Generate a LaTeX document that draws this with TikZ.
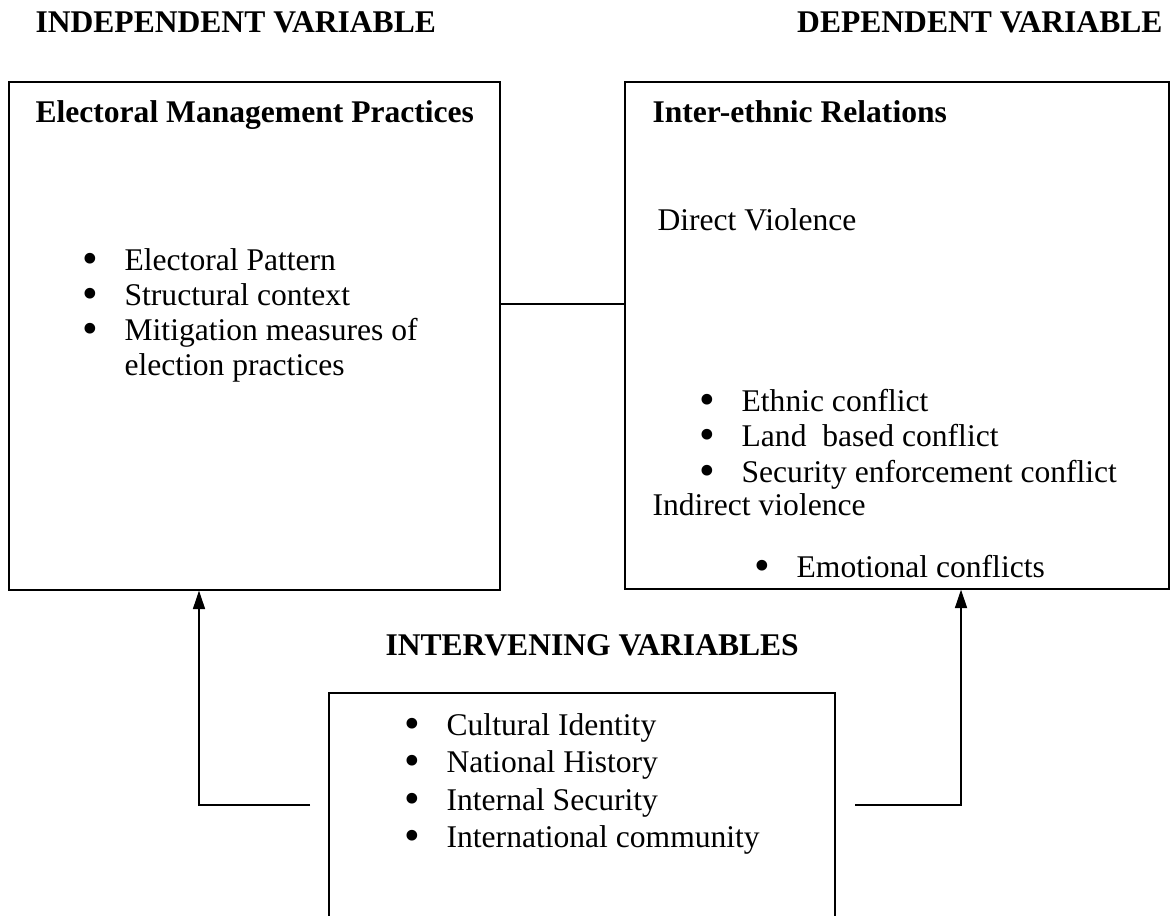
\documentclass[tikz,border=0pt]{standalone}
\usepackage{fontspec}
\setmainfont{Liberation Serif}
\usetikzlibrary{arrows.meta, fit, positioning}
\tikzstyle{arrow} = [line width=0.5pt,-{Triangle[length=7pt,width=4.6pt]}]
\tikzstyle{line} = [line width=0.5pt]
\tikzstyle{frame} = [rectangle, draw=black, line width=0.5pt, inner sep=0pt]
\tikzstyle{heading} = [anchor=base west, inner sep=0pt, font=\fontsize{12}{14}\selectfont\bfseries]
\tikzstyle{entry} = [anchor=base west, inner sep=0pt, font=\fontsize{12}{14}\selectfont]
\newcommand\bitem{\makebox[16pt][l]{\smash{\raisebox{-1.2pt}{\fontsize{17}{14}\selectfont\textbullet}}}}

\begin{document}
\begin{tikzpicture}[x=0.38pt, y=-0.38pt]
\useasboundingbox (0,0) rectangle (1171,915);
\clip (0,0) rectangle (1171,915);
% Boxes
\node (indep) [frame, fit={(9,82) (500,590)}] {};
\node (dep) [frame, fit={(625,82) (1169,589)}] {};
\node (interv) [frame, fit={(329,693) (835,940)}] {};

% Headings
\node (hIndep) [heading] at (35,32) {INDEPENDENT VARIABLE};
\node (hDep) [heading, anchor=base east] at (1163,32) {DEPENDENT VARIABLE};
\node (hInterv) [heading] at (385,655) {INTERVENING VARIABLES};

% Independent variable
\node (emp) [heading] at (35,122) {Electoral Management Practices};
\node (pattern) [entry] at (82,270) {\bitem Electoral Pattern};
\node (context) [entry] at (82,305) {\bitem Structural context};
\node (mitig) [entry] at (82,340) {\bitem Mitigation measures of};
\node (mitig2) [entry] at (124,375) {election practices};

% Dependent variable
\node (ier) [heading] at (652,122) {Inter-ethnic Relations};
\node (direct) [entry] at (657,230) {Direct Violence};
\node (ethnic) [entry] at (699,411) {\bitem Ethnic conflict};
\node (land) [entry] at (699,446) {\bitem Land\ \ based conflict};
\node (secur) [entry] at (699,482) {\bitem Security enforcement conflict};
\node (indirect) [entry] at (652,515) {Indirect violence};
\node (emot) [entry] at (754,577) {\bitem Emotional conflicts};

% Intervening variables
\node (cult) [entry] at (404,735) {\bitem Cultural Identity};
\node (hist) [entry] at (404,772) {\bitem National History};
\node (isec) [entry] at (404,810) {\bitem Internal Security};
\node (intl) [entry] at (404,847) {\bitem International community};

% Connectors
\coordinate (link) at (560,304);
\draw [line] (link -| indep.east) -- (link -| dep.west);

\coordinate (lend) at (310,805);
\coordinate (lturn) at (199,805);
\draw [arrow] (lend) -- (lturn) -- (lturn |- indep.south);

\coordinate (rend) at (855,805);
\coordinate (rturn) at (961,805);
\draw [arrow] (rend) -- (rturn) -- (rturn |- dep.south);

\end{tikzpicture}
\end{document}
